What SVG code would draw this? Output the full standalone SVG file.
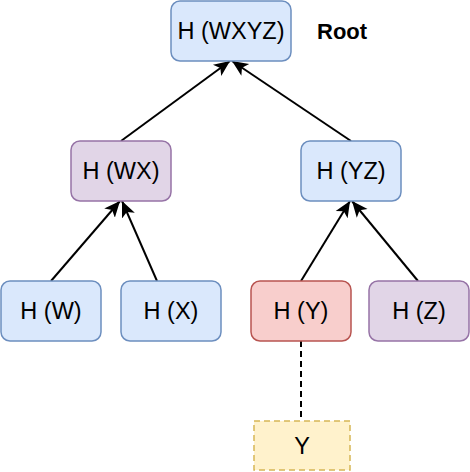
<svg xmlns="http://www.w3.org/2000/svg" width="470" height="472" viewBox="0 0 470 472">
  <defs>
    <marker id="arrow" markerUnits="userSpaceOnUse" markerWidth="18" markerHeight="18" viewBox="0 0 18 18" refX="16" refY="9" orient="auto">
      <path d="M0,2 L16,9 L0,16 L4,9 Z" fill="#000"/>
    </marker>
    <style>
      .box { stroke-width: 1.5; }
      .blue { fill: #dae8fc; stroke: #6c8ebf; }
      .purple { fill: #e1d5e7; stroke: #9673a6; }
      .red { fill: #f8cecc; stroke: #b85450; }
      .yellow { fill: #fff2cc; stroke: #d6b656; stroke-dasharray: 6 4; }
      .lbl { font-family: "Liberation Sans", Arial, sans-serif; font-size: 23.5px; fill: #000; text-anchor: middle; }
      .edge { stroke: #000; stroke-width: 2; fill: none; }
    </style>
  </defs>
  <rect width="470" height="472" fill="#fff"/>
  <g id="connectors">
    <line class="edge" x1="121" y1="141" x2="230" y2="61" marker-end="url(#arrow)"/>
    <line class="edge" x1="351" y1="141" x2="232" y2="61" marker-end="url(#arrow)"/>
    <line class="edge" x1="51" y1="281" x2="120" y2="201" marker-end="url(#arrow)"/>
    <line class="edge" x1="157" y1="281" x2="122" y2="201" marker-end="url(#arrow)"/>
    <line class="edge" x1="301" y1="281" x2="350" y2="201" marker-end="url(#arrow)"/>
    <line class="edge" x1="418" y1="281" x2="352" y2="201" marker-end="url(#arrow)"/>
    <line class="edge" x1="301" y1="341" x2="301" y2="421" stroke-dasharray="6 4"/>
  </g>
  <g id="root">
    <rect class="box blue" x="171" y="1" width="120" height="60" rx="9"/>
    <text class="lbl" x="231" y="39">H (WXYZ)</text>
  </g>
  <g id="root-label">
    <text x="317" y="39" style="font-family: 'Liberation Sans', Arial, sans-serif; font-size: 22px; font-weight: bold;">Root</text>
  </g>
  <g id="hwx">
    <rect class="box purple" x="71" y="141" width="100" height="60" rx="9"/>
    <text class="lbl" x="121" y="179">H (WX)</text>
  </g>
  <g id="hyz">
    <rect class="box blue" x="301" y="141" width="100" height="60" rx="9"/>
    <text class="lbl" x="351" y="179">H (YZ)</text>
  </g>
  <g id="hw">
    <rect class="box blue" x="1" y="281" width="100" height="60" rx="9"/>
    <text class="lbl" x="51" y="319">H (W)</text>
  </g>
  <g id="hx">
    <rect class="box blue" x="121" y="281" width="100" height="60" rx="9"/>
    <text class="lbl" x="171" y="319">H (X)</text>
  </g>
  <g id="hy">
    <rect class="box red" x="251" y="281" width="100" height="60" rx="9"/>
    <text class="lbl" x="301" y="319">H (Y)</text>
  </g>
  <g id="hz">
    <rect class="box purple" x="369" y="281" width="100" height="60" rx="9"/>
    <text class="lbl" x="419" y="319">H (Z)</text>
  </g>
  <g id="y">
    <rect class="box yellow" x="254" y="421" width="96" height="49"/>
    <text class="lbl" x="302" y="454">Y</text>
  </g>
</svg>
